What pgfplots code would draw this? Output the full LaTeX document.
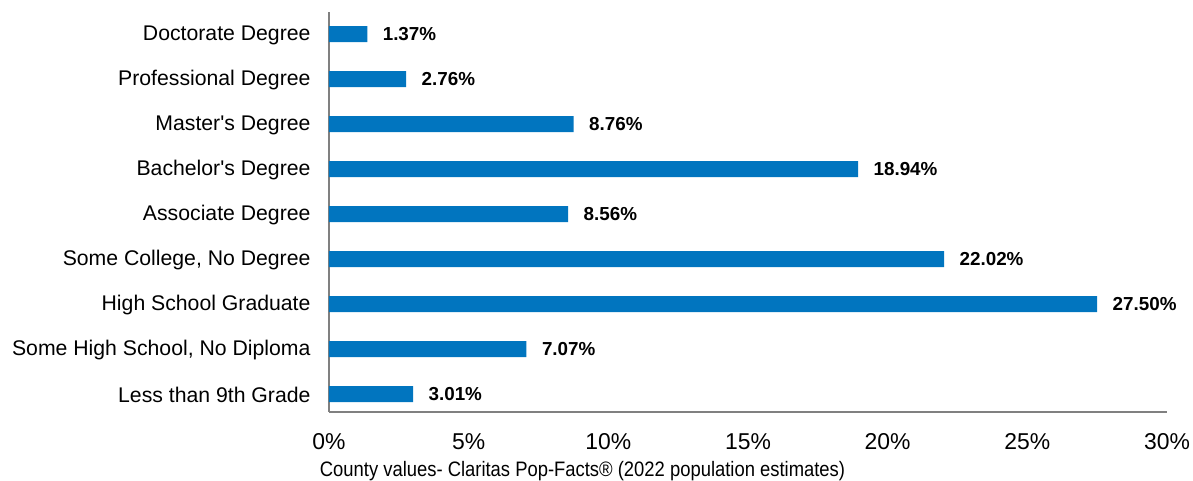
\documentclass[border=0pt]{standalone}
\usepackage{fontspec}
\setmainfont{Liberation Sans}
\newfontfamily\narrowfont[FakeStretch=0.88]{Liberation Sans}
\usepackage{pgfplots}
\pgfplotsset{compat=1.18}
\definecolor{barblue}{HTML}{0175BF}
\definecolor{axgray}{HTML}{808080}
\begin{document}
\begin{tikzpicture}
\begin{axis}[
  scale only axis,
  width=838bp, height=400bp,
  xbar, bar width=16bp,
  xmin=0, xmax=30, ymin=-0.4, ymax=8.49,
  axis lines*=left,
  axis line style={axgray, line width=1.5bp},
  x axis line style={-}, y axis line style={-},
  xtick={0,5,...,30},
  xticklabels={0\%,5\%,10\%,15\%,20\%,25\%,30\%},
  ytick={0,...,8},
  yticklabels={Less than 9th Grade,{Some High School, No Diploma},High School Graduate,{Some College, No Degree},Associate Degree,Bachelor\textquotesingle s Degree,Master\textquotesingle s Degree,Professional Degree,Doctorate Degree},
  major tick length=0pt,
  tick style={draw=none},
  xticklabel style={font=\fontsize{23}{27}\selectfont, yshift=-18bp},
  yticklabel style={font=\fontsize{21.3}{25}\selectfont, xshift=-15bp, yshift=-1bp},
  /pgf/number format/assume math mode=true,
  point meta=x,
  nodes near coords={\pgfmathprintnumber[fixed,fixed zerofill,precision=2]{\pgfplotspointmeta}\%},
  nodes near coords style={font=\bfseries\fontsize{18.9}{22}\selectfont, anchor=west, xshift=12bp, black},
]
\addplot[fill=barblue, draw=none] coordinates {
(3.01,0) (7.07,1) (27.50,2) (22.02,3) (8.56,4) (18.94,5) (8.76,6) (2.76,7) (1.37,8)
};
\end{axis}
\node[font=\narrowfont\fontsize{21}{24}\selectfont, anchor=center] at (253.5bp,-59bp) {County values- Claritas Pop-Facts® (2022 population estimates)};
\pgfresetboundingbox
\path (-329bp,-69bp) rectangle (864bp,412bp);
\end{tikzpicture}
\end{document}
